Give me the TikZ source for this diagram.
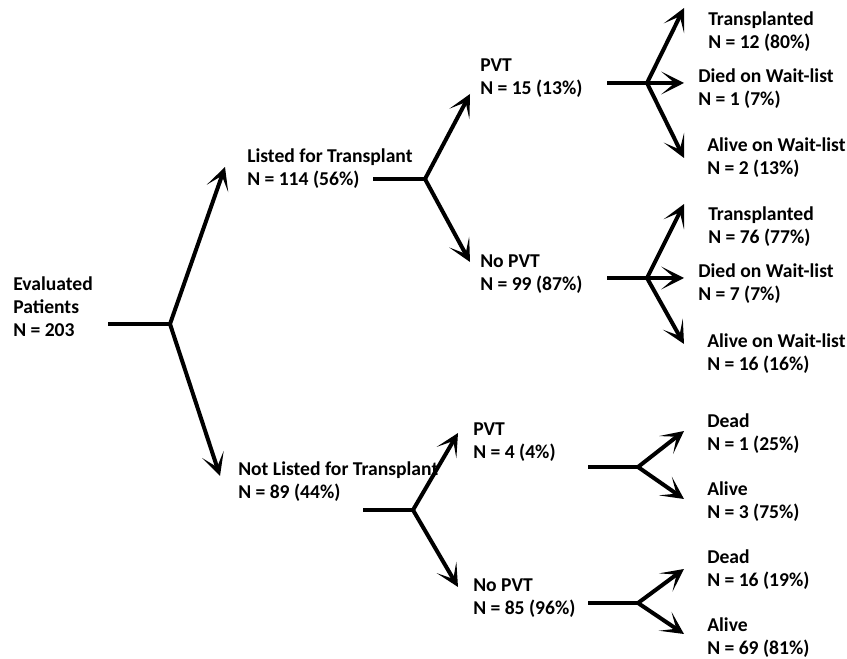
\documentclass[tikz,border=0pt]{standalone}
\usepackage{fontspec}
\setmainfont{Carlito}
\usetikzlibrary{arrows.meta}
\begin{document}
\begin{tikzpicture}[x=0.75pt,y=-0.75pt,
  lbl/.style={anchor=west,align=left,inner sep=0pt,font=\fontsize{14.7}{17.3}\selectfont\bfseries},
  conn/.style={line width=3pt},
  arr/.style={line width=3pt,-{Stealth[length=17pt,width=17pt,inset=10pt]}}]
\useasboundingbox (0,0) rectangle (847,659);
% text nodes
\node[lbl] (eval) at (13,307) {Evaluated\\Patients\\N = 203};
\node[lbl] (listed) at (247,168.5) {Listed for Transplant\\N = 114 (56\%)};
\node[lbl] (notlisted) at (238,481.5) {Not Listed for Transplant\\N = 89 (44\%)};
\node[lbl] (pvtA) at (480,78.5) {PVT\\N = 15 (13\%)};
\node[lbl] (nopvtA) at (480,274.5) {No PVT\\N = 99 (87\%)};
\node[lbl] (pvtB) at (473,442.5) {PVT\\N = 4 (4\%)};
\node[lbl] (nopvtB) at (473,598.5) {No PVT\\N = 85 (96\%)};
\node[lbl] (tA) at (708,31.5) {Transplanted\\N = 12 (80\%)};
\node[lbl] (dA) at (698,88.5) {Died on Wait-list\\N = 1 (7\%)};
\node[lbl] (aA) at (707,157.5) {Alive on Wait-list\\N = 2 (13\%)};
\node[lbl] (tB) at (708,226.5) {Transplanted\\N = 76 (77\%)};
\node[lbl] (dB) at (698,283.5) {Died on Wait-list\\N = 7 (7\%)};
\node[lbl] (aB) at (707,353.5) {Alive on Wait-list\\N = 16 (16\%)};
\node[lbl] (deadA) at (707,433.5) {Dead\\N = 1 (25\%)};
\node[lbl] (aliveA) at (707,501.5) {Alive\\N = 3 (75\%)};
\node[lbl] (deadB) at (707,570) {Dead\\N = 16 (19\%)};
\node[lbl] (aliveB) at (707,637.5) {Alive\\N = 69 (81\%)};
% coordinates
\coordinate (s0) at (108,324); \coordinate (b0) at (170,324);
\coordinate (u0) at (225,167); \coordinate (d0) at (220,476);
\coordinate (s1) at (373,179); \coordinate (b1) at (425,179);
\coordinate (u1) at (470,94); \coordinate (d1) at (470,262);
\coordinate (s2) at (363,510); \coordinate (b2) at (413,510);
\coordinate (u2) at (458,433); \coordinate (d2) at (458,587);
\coordinate (s3) at (607,83); \coordinate (b3) at (647,83);
\coordinate (u3) at (684,8); \coordinate (m3) at (684,83); \coordinate (d3) at (684,158);
\coordinate (s4) at (607,278); \coordinate (b4) at (647,278);
\coordinate (u4) at (684,204); \coordinate (m4) at (684,278); \coordinate (d4) at (684,344);
\coordinate (s5) at (588,467); \coordinate (b5) at (638,467);
\coordinate (u5) at (684,431); \coordinate (d5) at (684,499);
\coordinate (s6) at (588,603); \coordinate (b6) at (638,603);
\coordinate (u6) at (684,569); \coordinate (d6) at (684,634);
% connectors
\draw[conn] (s0) -- (b0); \draw[arr] (b0) -- (u0); \draw[arr] (b0) -- (d0);
\draw[conn] (s1) -- (b1); \draw[arr] (b1) -- (u1); \draw[arr] (b1) -- (d1);
\draw[conn] (s2) -- (b2); \draw[arr] (b2) -- (u2); \draw[arr] (b2) -- (d2);
\draw[conn] (s3) -- (b3); \draw[arr] (b3) -- (u3); \draw[arr] (b3) -- (m3); \draw[arr] (b3) -- (d3);
\draw[conn] (s4) -- (b4); \draw[arr] (b4) -- (u4); \draw[arr] (b4) -- (m4); \draw[arr] (b4) -- (d4);
\draw[conn] (s5) -- (b5); \draw[arr] (b5) -- (u5); \draw[arr] (b5) -- (d5);
\draw[conn] (s6) -- (b6); \draw[arr] (b6) -- (u6); \draw[arr] (b6) -- (d6);
\end{tikzpicture}
\end{document}
